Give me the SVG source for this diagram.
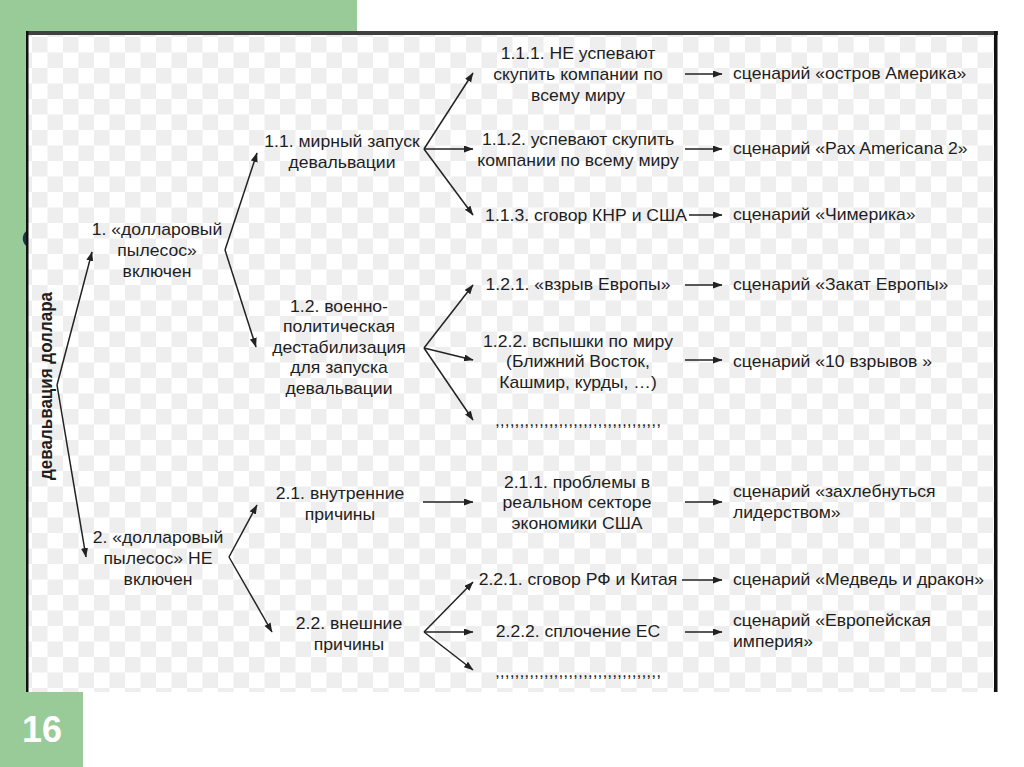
<svg xmlns="http://www.w3.org/2000/svg" width="1024" height="767" viewBox="0 0 1024 767">
<style>
.t{font-family:"Liberation Sans",Arial,sans-serif;font-size:16px;fill:#1e1e1e;text-anchor:middle}
.s{font-family:"Liberation Sans",Arial,sans-serif;font-size:16px;fill:#1e1e1e;text-anchor:start}
.v{font-family:"Liberation Sans",Arial,sans-serif;font-size:17px;font-weight:bold;fill:#1e1e1e;text-anchor:middle}
.c line{stroke:#222;stroke-width:1.5;marker-end:url(#ah)}
.green{fill:#98cb98}
</style>
<defs>
<marker id="ah" markerUnits="userSpaceOnUse" markerWidth="10" markerHeight="8" refX="9" refY="3.5" orient="auto">
<path d="M0,0 L9.5,3.5 L0,7 z" fill="#222"/>
</marker>
<pattern id="chk" patternUnits="userSpaceOnUse" x="32" y="37" width="31" height="31">
<rect width="31" height="31" fill="#ffffff"/>
<rect x="0" y="0" width="15.5" height="15.5" fill="#eeeeee"/>
<rect x="15.5" y="15.5" width="15.5" height="15.5" fill="#eeeeee"/>
</pattern>
</defs>
<rect width="1024" height="767" fill="#ffffff"/>
<g id="slide">
<rect class="green" x="0" y="0" width="357" height="31"/>
<rect class="green" x="0" y="0" width="26" height="692"/>
<rect class="green" x="0" y="692" width="83" height="75"/>
<text x="22" y="742" style="font-family:'Liberation Sans',Arial,sans-serif;font-size:36px;font-weight:bold;fill:#ffffff">16</text>
<path d="M28,230 C21,233 21,244 28,247 Z" fill="#1d3552"/>
<rect x="28" y="35" width="966" height="657" fill="url(#chk)"/>
<rect x="26" y="31" width="972" height="4" fill="#404040"/>
<rect x="26" y="31" width="2.5" height="661" fill="#111"/>
<rect x="994" y="31" width="3.5" height="661" fill="#111"/>
</g>
<g id="connectors" class="c">
<line x1="57" y1="385" x2="92" y2="252"/>
<line x1="57" y1="385" x2="86" y2="557"/>
<line x1="225" y1="250" x2="257" y2="153"/>
<line x1="225" y1="250" x2="256" y2="347"/>
<line x1="229" y1="557" x2="257" y2="505"/>
<line x1="229" y1="557" x2="272" y2="632"/>
<line x1="424" y1="149" x2="473" y2="73"/>
<line x1="424" y1="149" x2="473" y2="149"/>
<line x1="424" y1="149" x2="473" y2="215"/>
<line x1="424" y1="348" x2="473" y2="285"/>
<line x1="424" y1="348" x2="473" y2="360"/>
<line x1="424" y1="348" x2="473" y2="420"/>
<line x1="423" y1="502" x2="473" y2="502"/>
<line x1="424" y1="632" x2="473" y2="582"/>
<line x1="424" y1="632" x2="473" y2="632"/>
<line x1="424" y1="632" x2="473" y2="670"/>
<line x1="685" y1="74" x2="722" y2="74"/>
<line x1="685" y1="149" x2="722" y2="149"/>
<line x1="689" y1="215" x2="722" y2="215"/>
<line x1="685" y1="285" x2="722" y2="285"/>
<line x1="685" y1="360" x2="722" y2="360"/>
<line x1="685" y1="502" x2="722" y2="502"/>
<line x1="682" y1="580" x2="722" y2="580"/>
<line x1="685" y1="632" x2="722" y2="632"/>
</g>
<g id="n0"><text class="v" transform="translate(52,386) scale(1.1,1) rotate(-90)" x="0" y="0">девальвация доллара</text></g>
<g id="n1"><text class="t" transform="translate(157,0) scale(1.1,1)"><tspan x="0" y="235">1. «долларовый</tspan><tspan x="0" y="256">пылесос»</tspan><tspan x="0" y="277">включен</tspan></text></g>
<g id="n2"><text class="t" transform="translate(158,0) scale(1.1,1)"><tspan x="0" y="543">2. «долларовый</tspan><tspan x="0" y="564">пылесос» НЕ</tspan><tspan x="0" y="585">включен</tspan></text></g>
<g id="n11"><text class="t" transform="translate(342,0) scale(1.1,1)"><tspan x="0" y="147">1.1. мирный запуск</tspan><tspan x="0" y="168">девальвации</tspan></text></g>
<g id="n12"><text class="t" transform="translate(339,0) scale(1.1,1)"><tspan x="0" y="312">1.2. военно-</tspan><tspan x="0" y="332.5">политическая</tspan><tspan x="0" y="353">дестабилизация</tspan><tspan x="0" y="373.5">для запуска</tspan><tspan x="0" y="394">девальвации</tspan></text></g>
<g id="n21"><text class="t" transform="translate(340,0) scale(1.1,1)"><tspan x="0" y="499">2.1. внутренние</tspan><tspan x="0" y="520">причины</tspan></text></g>
<g id="n22"><text class="t" transform="translate(349,0) scale(1.1,1)"><tspan x="0" y="629">2.2. внешние</tspan><tspan x="0" y="650">причины</tspan></text></g>
<g id="n111"><text class="t" transform="translate(578,0) scale(1.1,1)"><tspan x="0" y="59">1.1.1. НЕ успевают</tspan><tspan x="0" y="80">скупить компании по</tspan><tspan x="0" y="101">всему миру</tspan></text></g>
<g id="n112"><text class="t" transform="translate(578,0) scale(1.1,1)"><tspan x="0" y="145">1.1.2. успевают скупить</tspan><tspan x="0" y="166">компании по всему миру</tspan></text></g>
<g id="n113"><text class="t" transform="translate(586,0) scale(1.1,1)"><tspan x="0" y="221">1.1.3. сговор КНР и США</tspan></text></g>
<g id="n121"><text class="t" transform="translate(578,0) scale(1.1,1)"><tspan x="0" y="290">1.2.1. «взрыв Европы»</tspan></text></g>
<g id="n122"><text class="t" transform="translate(578,0) scale(1.1,1)"><tspan x="0" y="347">1.2.2. вспышки по миру</tspan><tspan x="0" y="367.5">(Ближний Восток,</tspan><tspan x="0" y="388">Кашмир, курды, …)</tspan></text></g>
<g id="n123"><text class="t" transform="translate(578,0) scale(1.1,1)"><tspan x="0" y="426">,,,,,,,,,,,,,,,,,,,,,,,,,,,,,,,,,,</tspan></text></g>
<g id="n211"><text class="t" transform="translate(577,0) scale(1.1,1)"><tspan x="0" y="488">2.1.1. проблемы в</tspan><tspan x="0" y="508.5">реальном секторе</tspan><tspan x="0" y="529">экономики США</tspan></text></g>
<g id="n221"><text class="t" transform="translate(578,0) scale(1.1,1)"><tspan x="0" y="585">2.2.1. сговор РФ и Китая</tspan></text></g>
<g id="n222"><text class="t" transform="translate(578,0) scale(1.1,1)"><tspan x="0" y="637">2.2.2. сплочение ЕС</tspan></text></g>
<g id="n223"><text class="t" transform="translate(578,0) scale(1.1,1)"><tspan x="0" y="677">,,,,,,,,,,,,,,,,,,,,,,,,,,,,,,,,,,</tspan></text></g>
<g id="s1"><text class="s" transform="translate(733,0) scale(1.1,1)"><tspan x="0" y="79">сценарий «остров Америка»</tspan></text></g>
<g id="s2"><text class="s" transform="translate(733,0) scale(1.1,1)"><tspan x="0" y="154">сценарий «Pax Americana 2»</tspan></text></g>
<g id="s3"><text class="s" transform="translate(733,0) scale(1.1,1)"><tspan x="0" y="220">сценарий «Чимерика»</tspan></text></g>
<g id="s4"><text class="s" transform="translate(733,0) scale(1.1,1)"><tspan x="0" y="290">сценарий «Закат Европы»</tspan></text></g>
<g id="s5"><text class="s" transform="translate(733,0) scale(1.1,1)"><tspan x="0" y="367">сценарий «10 взрывов »</tspan></text></g>
<g id="s6"><text class="s" transform="translate(733,0) scale(1.1,1)"><tspan x="0" y="497">сценарий «захлебнуться</tspan><tspan x="0" y="518">лидерством»</tspan></text></g>
<g id="s7"><text class="s" transform="translate(733,0) scale(1.1,1)"><tspan x="0" y="585">сценарий «Медведь и дракон»</tspan></text></g>
<g id="s8"><text class="s" transform="translate(733,0) scale(1.1,1)"><tspan x="0" y="626">сценарий «Европейская</tspan><tspan x="0" y="647">империя»</tspan></text></g>
</svg>
